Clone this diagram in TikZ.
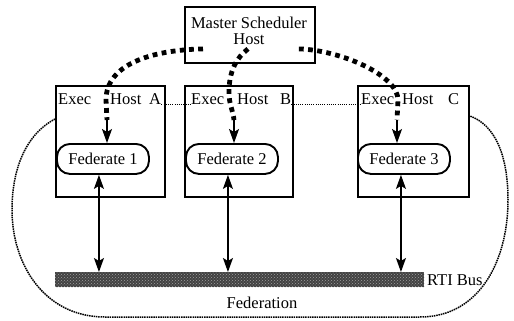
\documentclass[tikz,border=0pt]{standalone}
\usepackage{fontspec}
\setmainfont{Liberation Serif}
\usetikzlibrary{arrows.meta,patterns}
\begin{document}
\begin{tikzpicture}[x=1pt,y=-1pt,
  font=\fontsize{16.5}{16}\selectfont,
  hostbox/.style={draw,line width=1.9pt,inner sep=0pt,anchor=north west},
  fedbox/.style={draw,line width=1.9pt,rounded corners=13pt,inner sep=0pt,
    anchor=north west,minimum width=92pt,minimum height=30pt},
  lbl/.style={anchor=base west,inner sep=0pt},
  thickdots/.style={line width=4.8pt,dash pattern=on 4.8pt off 4.4pt},
  ctrlarrow/.style={line width=1.2pt,-{Stealth[length=14pt,width=10pt,inset=3pt]}},
  biarrow/.style={line width=1.4pt,
    {Stealth[length=14pt,width=10pt,inset=3pt]}-{Stealth[length=14pt,width=10pt,inset=3pt]}},
  hostlink/.style={line width=1pt,dash pattern=on 1pt off 1.2pt},
  fedline/.style={line width=1.5pt,dash pattern=on 1.5pt off 0.8pt}]
\useasboundingbox (0,0) rectangle (514,321);

% master scheduler
\node[hostbox,minimum width=130pt,minimum height=56pt] (ms) at (184,6) {};
\node[align=center,inner sep=0pt] (mstext) at (249,31) {Master Scheduler\\Host};

% execution hosts
\node[hostbox,minimum width=109pt,minimum height=111pt] (ha) at (55,85) {};
\node[hostbox,minimum width=108pt,minimum height=111pt] (hb) at (184,85) {};
\node[hostbox,minimum width=111pt,minimum height=111pt] (hc) at (357,85) {};

\node[lbl] (ae) at (58,104) {Exec};
\node[lbl] (ah) at (110,104) {Host};
\node[lbl] (al) at (149,104) {A};
\node[lbl] (be) at (191,104) {Exec};
\node[lbl] (bh) at (237,104) {Host};
\node[lbl] (bl) at (280,104) {B};
\node[lbl] (ce) at (361,104) {Exec};
\node[lbl] (ch) at (402,104) {Host};
\node[lbl] (cl) at (448,104) {C};

% links between the hosts
\draw[hostlink] (al.base east) -- (be.base west);
\draw[hostlink] (bl.base east) -- (ce.base west);

% federates
\node[fedbox] (f1) at (56,143) {Federate 1};
\node[fedbox] (f2) at (185,143) {Federate 2};
\node[fedbox] (f3) at (357,143) {Federate 3};

% RTI bus
\node[anchor=north west,inner sep=0pt,minimum width=369pt,minimum height=15pt,
  fill=black!74] (bus) at (55,272) {};
\fill[pattern=crosshatch dots,pattern color=black!38] (bus.north west) rectangle (bus.south east);
\node[lbl] (rti) at (427,285) {RTI Bus};
\node[anchor=base,inner sep=0pt] (fed) at (262,308) {Federation};

% federate <-> bus
\draw[biarrow] ([xshift=-4pt]f1.south) -- ([xshift=-4pt]f1.south |- bus.north);
\draw[biarrow] ([xshift=-4pt]f2.south) -- ([xshift=-4pt]f2.south |- bus.north);
\draw[biarrow] ([xshift=-3pt]f3.south) -- ([xshift=-3pt]f3.south |- bus.north);

% scheduler control paths
\coordinate (l0) at ([xshift=19pt,yshift=15pt]ms.south west);
\coordinate (m0) at ([xshift=64pt,yshift=15pt]ms.south west);
\coordinate (r0) at ([xshift=-17pt,yshift=15pt]ms.south east);
\coordinate (l1) at (107,120);
\coordinate (m1) at (234,120);
\coordinate (r1) at (397,120);
\draw[thickdots] (l0) .. controls (150,50) and (106,65) .. (106,100) -- (l1);
\draw[thickdots] (m0) .. controls (236,58) and (229,72) .. (229,92)
  .. controls (229,105) and (233,110) .. (m1);
\draw[thickdots] (r0) .. controls (340,50) and (398,75) .. (398,100) -- (r1);
\draw[ctrlarrow] (l1) -- (l1 |- f1.north);
\draw[ctrlarrow] (m1) -- (m1 |- f2.north);
\draw[ctrlarrow] (r1) -- (r1 |- f3.north);

% federation boundary
\draw[fedline] (ha.west |- 0,119) .. controls (25,135) and (12,170) .. (12,210)
  .. controls (12,265) and (45,317) .. (105,317) -- (420,317)
  .. controls (480,317) and (508,260) .. (508,200)
  .. controls (508,155) and (495,125) .. (hc.east |- 0,116);
\end{tikzpicture}
\end{document}
